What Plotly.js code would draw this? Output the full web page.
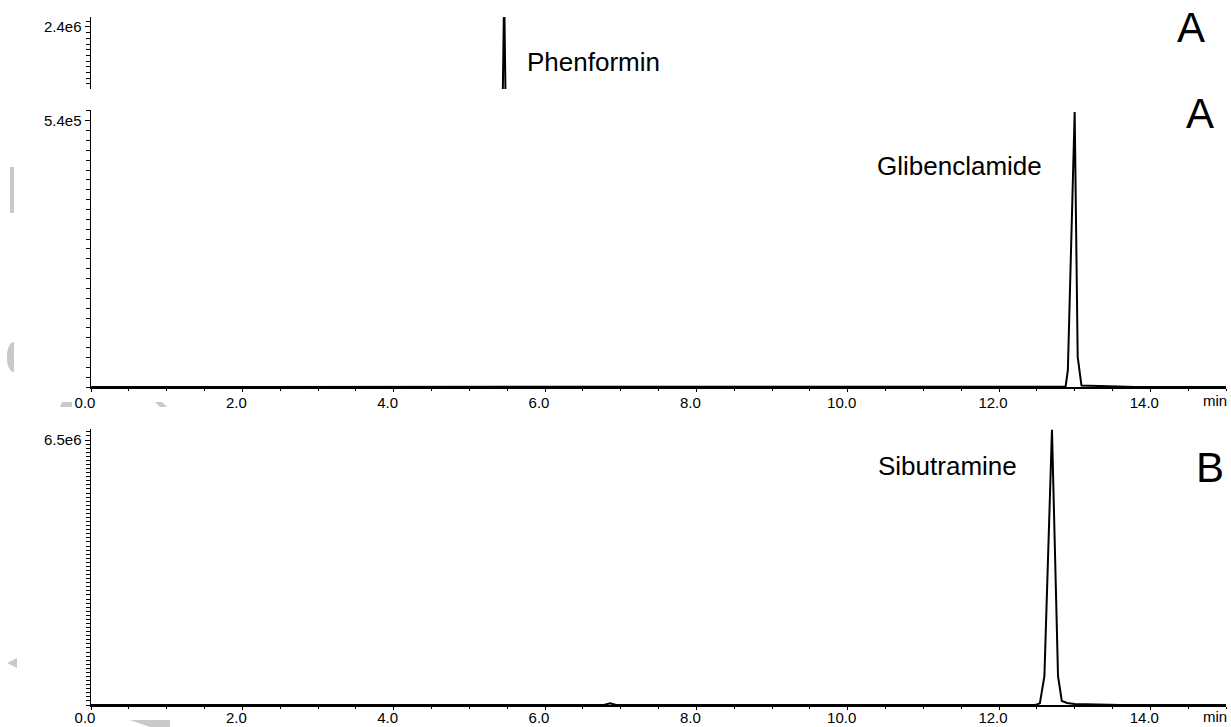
<!DOCTYPE html>
<html>
<head>
<meta charset="utf-8">
<script src="https://cdn.plot.ly/plotly-3.0.1.min.js"></script>
<style>html,body{margin:0;padding:0;background:#fff;}#chart{width:1231px;height:727px;}</style>
</head>
<body>
<div id="chart"></div>
<script>
// ---------- data ----------
// Panel A (top, cropped): Phenformin
const phenTime = [0, 5.43, 5.46, 5.49, 15.0];
const phenIntensity = [0, 0, 3.0e6, 0, 0];
// Panel A: Glibenclamide
const glibTime = [0, 12.84, 12.88, 12.91, 13.00, 13.04, 13.09, 13.2, 13.5, 13.8, 15.0];
const glibIntensity = [0, 0, 800, 34000, 558000, 61000, 3000, 2500, 1500, 0, 0];
// Panel B: Sibutramine
const sibTime = [0, 6.78, 6.86, 6.94, 12.48, 12.54, 12.60, 12.70, 12.78, 12.83, 12.90, 13.0, 13.3, 13.6, 15.0];
const sibIntensity = [0, 0, 40000, 0, 0, 40000, 710000, 6750000, 710000, 100000, 50000, 25000, 10000, 0, 0];
// tick labels
const xTickVals = [0, 2, 4, 6, 8, 10, 12, 14];
const xTickText = ["0.0", "2.0", "4.0", "6.0", "8.0", "10.0", "12.0", "14.0"];
const phenYTick = [2.4e6], phenYText = ["2.4e6"];
const glibYTick = [5.4e5], glibYText = ["5.4e5"];
const sibYTick = [6.5e6], sibYText = ["6.5e6"];
const peakLabels = ["Phenformin", "Glibenclamide", "Sibutramine"];
const panelLabels = ["A", "A", "B"];
const unitLabel = "min";

// ---------- helpers for pixel layout ----------
const W = 1231, H = 727;
const fx = x => x / W;
const fy = y => 1 - y / H;
const FONT = "Liberation Sans, Arial, Helvetica, sans-serif";
function poly(pts) {
  return "M " + pts.map(p => fx(p[0]).toFixed(5) + " " + fy(p[1]).toFixed(5)).join(" L ") + " Z";
}

const line = {color: "#000", width: 2};
const traces = [
  {x: phenTime, y: phenIntensity, xaxis: "x3", yaxis: "y3", type: "scatter", mode: "lines", line: line},
  {x: glibTime, y: glibIntensity, xaxis: "x2", yaxis: "y2", type: "scatter", mode: "lines", line: line},
  {x: sibTime, y: sibIntensity, xaxis: "x", yaxis: "y", type: "scatter", mode: "lines", line: line}
];

const xDomain = [fx(91), fx(1226)];
function xAxis(anchor, standoff) {
  return {
    domain: xDomain, range: [0, 15], anchor: anchor,
    showline: true, linecolor: "#000", linewidth: 2, showgrid: false, zeroline: false,
    ticks: "outside", ticklen: 3, tickwidth: 1, tickcolor: "#000",
    tickmode: "array", tickvals: xTickVals, ticktext: xTickText,
    ticklabelshift: -6, ticklabelstandoff: standoff,
    tickfont: {family: FONT, size: 15, color: "#000"},
    minor: {tickmode: "linear", tick0: 0, dtick: 0.5, ticks: "outside", ticklen: 2, tickcolor: "#000", showgrid: false}
  };
}
function yAxis(anchor, dom, range, tv, tt, minorStep) {
  return {
    domain: dom, range: range, anchor: anchor,
    showline: true, linecolor: "#000", linewidth: 1.5, showgrid: false, zeroline: false,
    ticks: "outside", ticklen: 5, tickwidth: 1, tickcolor: "#000",
    tickmode: "array", tickvals: tv, ticktext: tt,
    tickfont: {family: FONT, size: 15, color: "#000"},
    minor: {tickmode: "linear", tick0: 0, dtick: minorStep, ticks: "outside", ticklen: 4, tickcolor: "#000", showgrid: false}
  };
}

const grey = "#c9c9c9";
const shapes = [
  {type: "path", xref: "paper", yref: "paper", path: poly([[10,167],[14,167],[14,213],[10,213]]), fillcolor: grey, line: {width: 0}},
  {type: "path", xref: "paper", yref: "paper",
    path: "M " + fx(14) + " " + fy(342) + " C " + fx(4.5) + " " + fy(342) + ", " + fx(4.5) + " " + fy(372) + ", " + fx(14) + " " + fy(372) + " Z",
    fillcolor: grey, line: {width: 0}},
  {type: "path", xref: "paper", yref: "paper", path: poly([[62,402],[72,402],[72,407],[60,407]]), fillcolor: grey, line: {width: 0}},
  {type: "path", xref: "paper", yref: "paper", path: poly([[155,402],[162,402],[167,407],[160,407]]), fillcolor: grey, line: {width: 0}},
  {type: "path", xref: "paper", yref: "paper", path: poly([[17,658],[17,668],[7,663]]), fillcolor: grey, line: {width: 0}},
  {type: "path", xref: "paper", yref: "paper", path: poly([[130,720],[170,720],[170,727],[150,727]]), fillcolor: grey, line: {width: 0}}
];

function ann(text, x, y, xanchor, size) {
  return {text: text, xref: "paper", yref: "paper", x: fx(x), y: fy(y), xanchor: xanchor, yanchor: "middle",
    showarrow: false, font: {family: FONT, size: size, color: "#000"}};
}
const annotations = [
  ann(peakLabels[0], 525, 62, "left", 26),
  ann(peakLabels[1], 1044, 166, "right", 26),
  ann(peakLabels[2], 1019, 466, "right", 26),
  ann(panelLabels[0], 1191, 27, "center", 42),
  ann(panelLabels[1], 1200, 113, "center", 42),
  ann(panelLabels[2], 1210, 467, "center", 42),
  ann(unitLabel, 1229, 400, "right", 15),
  ann(unitLabel, 1229, 716, "right", 15)
];

const layout = {
  width: W, height: H, margin: {l: 0, r: 0, t: 0, b: 0, pad: 0},
  paper_bgcolor: "#fff", plot_bgcolor: "#fff", showlegend: false,
  font: {family: FONT, color: "#000"},
  xaxis: xAxis("y", -5),
  yaxis: yAxis("x", [fy(705), fy(429)], [0, 6.77e6], sibYTick, sibYText, 1e5),
  xaxis2: xAxis("y2", -2),
  yaxis2: yAxis("x2", [fy(387), fy(110)], [0, 5.62e5], glibYTick, glibYText, 2e4),
  xaxis3: Object.assign(xAxis("y3", 0), {visible: false}),
  yaxis3: yAxis("x3", [fy(89), fy(17)], [1.312e6, 2.575e6], phenYTick, phenYText, 1e5),
  shapes: shapes,
  annotations: annotations
};

Plotly.newPlot("chart", traces, layout, {staticPlot: true, displayModeBar: false});
</script>
</body>
</html>
